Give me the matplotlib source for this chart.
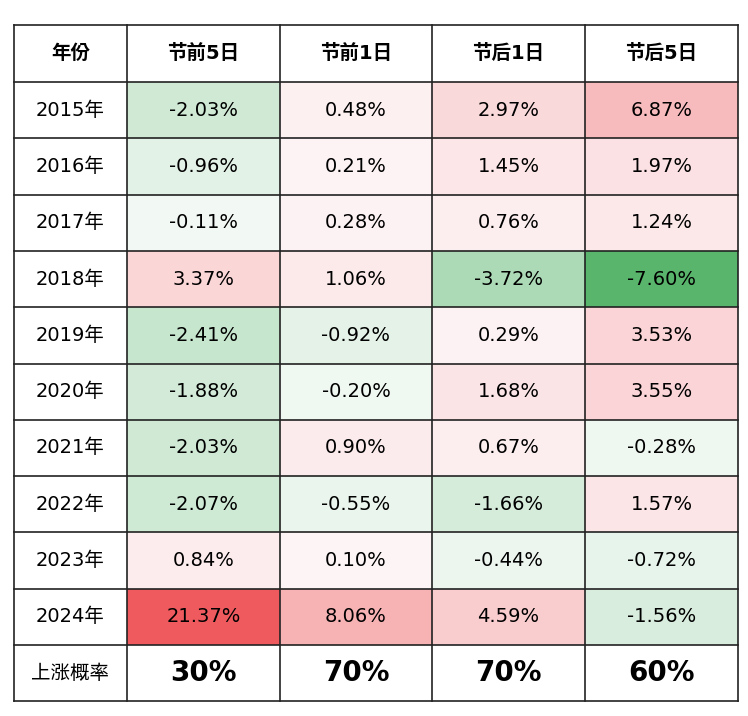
import matplotlib
matplotlib.use("Agg")
import matplotlib.pyplot as plt
from matplotlib import font_manager
from matplotlib.patches import Rectangle
from matplotlib.colors import to_rgb

available = {f.name for f in font_manager.fontManager.ttflist}
cjk = [n for n in ["Noto Sans CJK SC", "Noto Sans CJK JP", "Noto Sans CJK TC",
                   "Noto Sans CJK KR", "Noto Sans SC", "Noto Sans CJK"] if n in available]
if not cjk:
    cjk = sorted(n for n in available if "CJK" in n)
plt.rcParams["font.family"] = ["DejaVu Sans"] + cjk

columns = ["年份", "节前5日", "节前1日", "节后1日", "节后5日"]
years = ["2015年", "2016年", "2017年", "2018年", "2019年", "2020年",
         "2021年", "2022年", "2023年", "2024年"]
pre5 = [-2.03, -0.96, -0.11, 3.37, -2.41, -1.88, -2.03, -2.07, 0.84, 21.37]
pre1 = [0.48, 0.21, 0.28, 1.06, -0.92, -0.20, 0.90, -0.55, 0.10, 8.06]
post1 = [2.97, 1.45, 0.76, -3.72, 0.29, 1.68, 0.67, -1.66, -0.44, 4.59]
post5 = [6.87, 1.97, 1.24, -7.60, 3.53, 3.55, -0.28, 1.57, -0.72, -1.56]
rise_label = "上涨概率"
rise_prob = ["30%", "70%", "70%", "60%"]

series = [pre5, pre1, post1, post5]

col_edges = [14, 127, 280, 432, 585, 738]
top, header_h, row_h, bottom_h = 25, 57, 56.3, 56

RED = to_rgb("#ef5a5e")
GREEN = to_rgb("#58b56b")
PINK0 = to_rgb("#fdf6f7")
GREEN0 = to_rgb("#f3f9f5")


def blend(c0, c1, t):
    return tuple(a + (b - a) * t for a, b in zip(c0, c1))


def cell_color(v):
    if v >= 0:
        t = min(1.0, (v / 21.37) ** 0.85)
        return blend(PINK0, RED, t)
    t = min(1.0, (-v / 7.60) ** 1.1)
    return blend(GREEN0, GREEN, t)


fig = plt.figure(figsize=(7.48, 7.16), dpi=100)
ax = fig.add_axes([0, 0, 1, 1])
ax.set_xlim(0, 748)
ax.set_ylim(716, 0)
ax.axis("off")

for j, name in enumerate(columns):
    x0, x1 = col_edges[j], col_edges[j + 1]
    ax.text((x0 + x1) / 2, top + header_h / 2, name, ha="center", va="center",
            fontsize=14, fontweight="bold")

for i, year in enumerate(years):
    y0 = top + header_h + i * row_h
    ax.text((col_edges[0] + col_edges[1]) / 2, y0 + row_h / 2, year,
            ha="center", va="center", fontsize=14)
    for j, vals in enumerate(series):
        x0, x1 = col_edges[j + 1], col_edges[j + 2]
        v = vals[i]
        ax.add_patch(Rectangle((x0, y0), x1 - x0, row_h, facecolor=cell_color(v),
                               edgecolor="none"))
        ax.text((x0 + x1) / 2, y0 + row_h / 2, f"{v:.2f}%", ha="center",
                va="center", fontsize=14)

yb = top + header_h + len(years) * row_h
ax.text((col_edges[0] + col_edges[1]) / 2, yb + bottom_h / 2, rise_label,
        ha="center", va="center", fontsize=14)
for j, p in enumerate(rise_prob):
    x0, x1 = col_edges[j + 1], col_edges[j + 2]
    ax.text((x0 + x1) / 2, yb + bottom_h / 2, p, ha="center", va="center",
            fontsize=20, fontweight="bold")

y_end = yb + bottom_h
for x in col_edges:
    ax.plot([x, x], [top, y_end], color="#222222", lw=1.2)
h_lines = [top, top + header_h] + [top + header_h + (i + 1) * row_h
                                    for i in range(len(years))] + [y_end]
for y in h_lines:
    ax.plot([col_edges[0], col_edges[-1]], [y, y], color="#222222", lw=1.2)

fig.savefig("out.png", dpi=100, facecolor="white")
